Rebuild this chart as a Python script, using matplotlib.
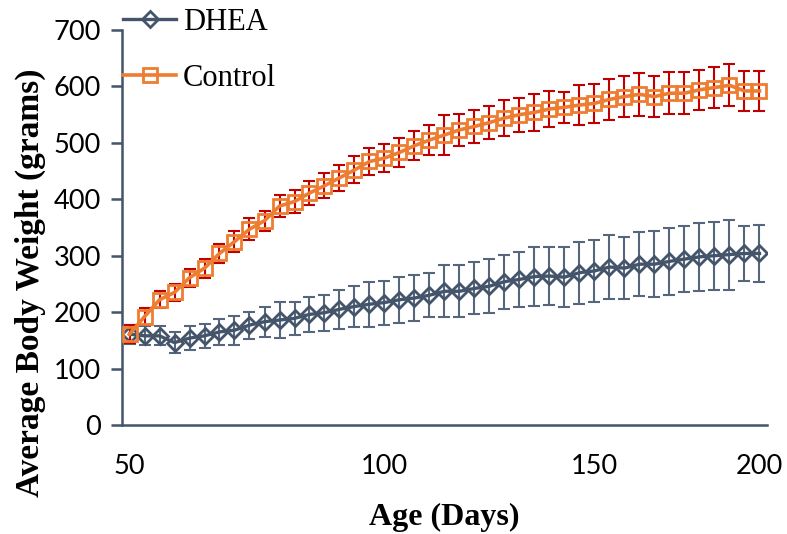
import matplotlib
matplotlib.use("Agg")
import matplotlib.pyplot as plt
import numpy as np

# ---- data ----
dhea_mean = [161, 158, 158, 146, 154, 158, 165, 168, 177, 183, 186, 189, 196, 199, 205,
             210, 214, 217, 222, 225, 230, 237, 237, 242, 246, 254, 258, 263, 264, 262,
             270, 273, 280, 278, 285, 285, 290, 294, 298, 300, 302, 304, 304]
dhea_err = [17, 17, 17, 18, 21, 21, 23, 26, 24, 27, 32, 29, 31, 32, 34,
            36, 40, 39, 41, 40, 39, 46, 46, 46, 48, 48, 49, 52, 52, 53,
            55, 55, 56, 55, 57, 58, 59, 58, 60, 60, 62, 49, 50]
control_mean = [161, 192, 222, 235, 261, 278, 304, 325, 347, 362, 388, 396, 411, 424, 438,
                452, 467, 473, 483, 495, 505, 514, 523, 529, 536, 544, 550, 554, 560, 563,
                567, 570, 577, 582, 586, 582, 588, 588, 594, 598, 602, 592, 592]
control_err = [16, 15, 15, 15, 16, 17, 17, 18, 19, 18, 20, 21, 22, 22, 23,
               24, 24, 25, 25, 26, 27, 36, 28, 30, 30, 32, 30, 33, 32, 28,
               35, 35, 37, 36, 38, 37, 37, 37, 36, 37, 37, 35, 35]
tick_index = [0, 17, 31, 42]
tick_labels = ["50", "100", "150", "200"]
y_ticks = [0, 100, 200, 300, 400, 500, 600, 700]

slate = "#44546A"
slate_err = "#56667D"
orange = "#ED7D31"
red = "#C00000"

fig = plt.figure(figsize=(7.87, 5.34), dpi=100)
ax = fig.add_axes([122 / 787, 1 - 425 / 534, (767 - 122) / 787, (425 - 30) / 534])

x = np.arange(len(dhea_mean))

ax.errorbar(x, dhea_mean, yerr=dhea_err, fmt="none", ecolor=slate_err,
            elinewidth=1.5, capsize=4.3, capthick=1.5, zorder=2)
l1, = ax.plot(x, dhea_mean, color=slate, lw=2.4, marker="D", markersize=8.5,
              markerfacecolor="none", markeredgecolor=slate, markeredgewidth=2,
              label="DHEA", zorder=3)
ax.errorbar(x, control_mean, yerr=control_err, fmt="none", ecolor=red,
            elinewidth=1.5, capsize=4.3, capthick=1.5, zorder=4)
l2, = ax.plot(x, control_mean, color=orange, lw=2.6, marker="s", markersize=10,
              markerfacecolor="none", markeredgecolor=orange, markeredgewidth=2,
              label="Control", zorder=5)

ax.set_xlim(-0.5, len(x) - 0.5)
ax.set_ylim(0, 700)
ax.set_yticks(y_ticks)
ax.set_xticks(tick_index)
ax.set_xticklabels(tick_labels)

for s in ["top", "right"]:
    ax.spines[s].set_visible(False)
for s in ["left", "bottom"]:
    ax.spines[s].set_color(slate)
    ax.spines[s].set_linewidth(1.8)

ax.tick_params(axis="y", length=8, width=1.8, color=slate, pad=7,
               labelsize=19.5, labelfontfamily="Lato")
ax.tick_params(axis="x", length=0, pad=21, labelsize=19.5, labelfontfamily="Lato")

ax.set_xlabel("Age (Days)", fontfamily="Liberation Serif", fontweight="bold",
              fontsize=23, labelpad=17)
fig.text(30 / 787, 1 - 283 / 534, "Average Body Weight (grams)",
         fontfamily="Liberation Serif", fontweight="bold", fontsize=24,
         rotation=90, ha="center", va="center")

leg = fig.legend(handles=[l1, l2], loc="upper left",
                 bbox_to_anchor=(123 / 787, 1 - 8 / 534),
                 frameon=False, prop={"family": "Liberation Serif", "size": 22},
                 handlelength=1.75, handletextpad=0.2, labelspacing=0.88,
                 borderpad=0, borderaxespad=0)

fig.savefig("out.png", dpi=100)
